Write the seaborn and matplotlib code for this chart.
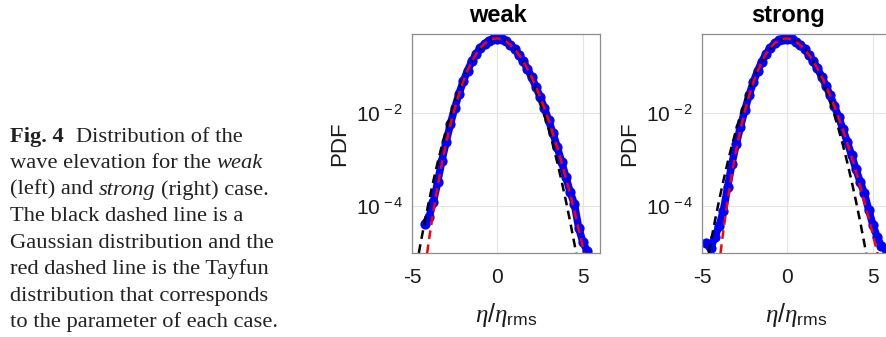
import matplotlib
matplotlib.use("Agg")
import matplotlib.pyplot as plt
import seaborn as sns
import numpy as np
from matplotlib.ticker import NullLocator
from matplotlib.transforms import IdentityTransform

# normalised surface elevation (bin centres)
eta = [-4.75, -4.5, -4.25, -4.0, -3.75, -3.5, -3.25, -3.0, -2.75, -2.5, -2.25,
       -2.0, -1.75, -1.5, -1.25, -1.0, -0.75, -0.5, -0.25, 0.0, 0.25, 0.5,
       0.75, 1.0, 1.25, 1.5, 1.75, 2.0, 2.25, 2.5, 2.75, 3.0, 3.25, 3.5,
       3.75, 4.0, 4.25, 4.5, 4.75, 5.0, 5.25, 5.5, 5.75]

# black dashed: Gaussian
gauss_pdf = [5.03e-6, 1.60e-5, 4.77e-5, 1.34e-4, 3.53e-4, 8.73e-4, 2.03e-3, 4.43e-3,
             9.09e-3, 1.753e-2, 3.17e-2, 5.40e-2, 8.63e-2, 0.1295, 0.1826, 0.2420,
             0.3011, 0.3521, 0.3867, 0.3989, 0.3867, 0.3521, 0.3011, 0.2420, 0.1826,
             0.1295, 8.63e-2, 5.40e-2, 3.17e-2, 1.753e-2, 9.09e-3, 4.43e-3, 2.03e-3,
             8.73e-4, 3.53e-4, 1.34e-4, 4.77e-5, 1.60e-5, 5.03e-6, 1.49e-6, 4.1e-7,
             1.1e-7, 2.6e-8]

# red dashed: Tayfun, weak case
weak_tayfun = [1.4e-7, 8.5e-7, 4.4e-6, 1.99e-5, 7.82e-5, 2.71e-4, 8.35e-4, 2.30e-3,
               5.68e-3, 1.272e-2, 2.586e-2, 4.80e-2, 8.17e-2, 0.1280, 0.1852, 0.2484,
               0.3097, 0.3600, 0.3915, 0.3989, 0.3821, 0.3445, 0.2934, 0.2362, 0.1802,
               0.1304, 8.98e-2, 5.89e-2, 3.68e-2, 2.20e-2, 1.256e-2, 6.87e-3, 3.61e-3,
               1.82e-3, 8.79e-4, 4.09e-4, 1.84e-4, 7.94e-5, 3.31e-5, 1.34e-5, 5.2e-6,
               1.96e-6, 7.2e-7]

# blue: measured PDF, weak case
weak_pdf = [np.nan, np.nan, 4.2e-5, 6.0e-5, 1.25e-4, 3.3e-4, 9.6e-4, 2.45e-3,
            5.85e-3, 1.29e-2, 2.60e-2, 4.82e-2, 8.18e-2, 0.1282, 0.1850, 0.2478,
            0.3090, 0.3585, 0.3900, 0.3975, 0.3830, 0.3450, 0.2938, 0.2365, 0.1805,
            0.1305, 8.97e-2, 5.88e-2, 3.69e-2, 2.21e-2, 1.265e-2, 6.95e-3, 3.66e-3,
            1.86e-3, 9.1e-4, 4.3e-4, 2.05e-4, 1.12e-4, 3.5e-5, 1.7e-5, 1.1e-5,
            np.nan, np.nan]

# red dashed: Tayfun, strong case
strong_tayfun = [9.5e-9, 1.04e-7, 8.7e-7, 5.70e-6, 3.04e-5, 1.336e-4, 4.97e-4, 1.585e-3,
                 4.40e-3, 1.073e-2, 2.327e-2, 4.52e-2, 7.96e-2, 0.1272, 0.1863, 0.2511,
                 0.3134, 0.3634, 0.3935, 0.3989, 0.3803, 0.3417, 0.2904, 0.2340, 0.1792,
                 0.1307, 9.10e-2, 6.06e-2, 3.87e-2, 2.37e-2, 1.393e-2, 7.89e-3, 4.31e-3,
                 2.27e-3, 1.158e-3, 5.71e-4, 2.73e-4, 1.263e-4, 5.68e-5, 2.48e-5, 1.05e-5,
                 4.35e-6, 1.75e-6]

# blue: measured PDF, strong case
strong_pdf = [1.6e-5, 1.25e-5, 2.2e-5, 3.8e-5, 8.0e-5, 2.6e-4, 8.2e-4, 2.15e-3,
              5.1e-3, 1.14e-2, 2.39e-2, 4.57e-2, 7.98e-2, 0.1270, 0.1858, 0.2500,
              0.3120, 0.3620, 0.3920, 0.3975, 0.3810, 0.3420, 0.2910, 0.2345, 0.1798,
              0.1312, 9.15e-2, 6.10e-2, 3.90e-2, 2.40e-2, 1.42e-2, 8.1e-3, 4.5e-3,
              2.4e-3, 1.26e-3, 6.4e-4, 3.4e-4, 1.9e-4, 8.5e-5, 4.0e-5, 2.2e-5,
              1.4e-5, 1.2e-5]

case_names = ["weak", "strong"]
ytick_vals = [1e-4, 1e-2]
ytick_labels = [r"$10^{\,-4}$", r"$10^{\,-2}$"]
xtick_vals = [-5, 0, 5]
xtick_labels = ["-5", "0", "5"]

caption = [
    [("Fig. 4", "bold"), ("Distribution of the", "normal")],
    [("wave elevation for the", "normal"), ("weak", "italic")],
    [("(left) and", "normal"), ("strong", "italic"), ("(right) case.", "normal")],
    [("The black dashed line is a", "normal")],
    [("Gaussian distribution and the", "normal")],
    [("red dashed line is the Tayfun", "normal")],
    [("distribution that corresponds", "normal")],
    [("to the parameter of each case.", "normal")],
]

sns.set_style("white")
plt.rcParams["font.family"] = ["Liberation Sans", "DejaVu Sans"]
plt.rcParams["mathtext.fontset"] = "custom"
plt.rcParams["mathtext.rm"] = "Liberation Sans"
plt.rcParams["mathtext.sf"] = "Liberation Sans"
plt.rcParams["mathtext.it"] = "Liberation Serif:italic"
plt.rcParams["mathtext.bf"] = "Liberation Sans:bold"

W, H = 886, 337
fig = plt.figure(figsize=(W / 100, H / 100), dpi=100)
fig.patch.set_facecolor("white")

spine_col = "#8c8c8c"
txt_col = "#1a1a1a"
panels = [(weak_pdf, weak_tayfun, 412), (strong_pdf, strong_tayfun, 702)]

for name, (pdf, tay, left) in zip(case_names, panels):
    ax = fig.add_axes([left / W, 1 - 253 / H, 188 / W, 219.5 / H])
    ax.set_yscale("log")
    sns.lineplot(x=eta, y=pdf, ax=ax, estimator=None, color="#0000ff", lw=5.4,
                 marker="o", markersize=6.6, markeredgecolor="#0000ff", zorder=2)
    sns.lineplot(x=eta, y=gauss_pdf, ax=ax, estimator=None, color="black", lw=1.8,
                 linestyle=(0, (3.5, 2.2)), zorder=3)
    sns.lineplot(x=eta, y=tay, ax=ax, estimator=None, color="#ff0000", lw=1.8,
                 linestyle=(0, (3.5, 2.2)), zorder=4)

    ax.set_xlim(-5, 6)
    ax.set_ylim(1e-5, 0.51)
    ax.set_xticks(xtick_vals)
    ax.set_xticklabels(xtick_labels)
    ax.set_yticks(ytick_vals)
    ax.set_yticklabels(ytick_labels)
    ax.yaxis.set_minor_locator(NullLocator())
    ax.grid(True, color="#e4e4e4", lw=0.8)
    ax.set_axisbelow(True)
    for sp in ax.spines.values():
        sp.set_color(spine_col)
        sp.set_linewidth(0.9)
    ax.tick_params(direction="in", length=3, color=spine_col, labelsize=15,
                   labelcolor=txt_col)
    ax.tick_params(axis="x", pad=11)
    ax.tick_params(axis="y", pad=6)
    ax.set_title(name, fontsize=17, fontweight="bold", color="black", x=0.455, pad=8)
    ax.set_ylabel("PDF", fontsize=16, color=txt_col, labelpad=4)
    ax.set_xlabel(r"$\eta/\eta_{\mathrm{rms}}$", fontsize=18, color=txt_col, labelpad=10)

# caption on the left, in a serif face with mixed styles
renderer = fig.canvas.get_renderer()
cap_kw = dict(family=["Liberation Serif", "DejaVu Serif"], fontsize=16.2, color="#222222")


def width_of(s, style):
    t = fig.text(0, 0, s, transform=IdentityTransform(), fontweight="bold" if style == "bold" else "normal",
                 fontstyle="italic" if style == "italic" else "normal", **cap_kw)
    w = t.get_window_extent(renderer).width
    t.remove()
    return w


space = width_of("a a", "normal") - width_of("aa", "normal")
for i, line in enumerate(caption):
    x = 10
    y = H - (141.7 + 26.5 * i)
    for j, (s, style) in enumerate(line):
        fig.text(x, y, s, transform=IdentityTransform(), va="baseline",
                 fontweight="bold" if style == "bold" else "normal",
                 fontstyle="italic" if style == "italic" else "normal", **cap_kw)
        gap = 12 if style == "bold" else space
        x += width_of(s, style) + gap

fig.savefig("out.png", dpi=100)
plt.close(fig)
